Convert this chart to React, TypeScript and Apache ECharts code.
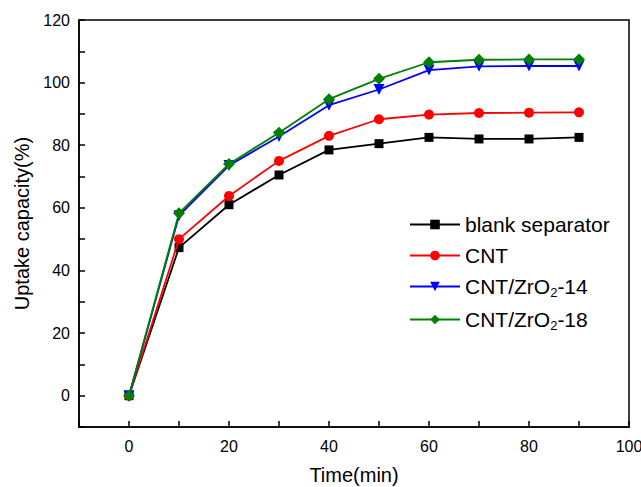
import React, { useEffect, useRef } from "react";
import * as echarts from "echarts";

const times = [0, 10, 20, 30, 40, 50, 60, 70, 80, 90];
const blankSeparator = [0, 47.3, 61, 70.5, 78.5, 80.5, 82.5, 82, 82, 82.5];
const cnt = [0, 50, 63.8, 75, 83, 88.3, 89.8, 90.3, 90.4, 90.5];
const cntZr14 = [0, 57.5, 73.5, 82.8, 92.8, 97.8, 104, 105.2, 105.3, 105.3];
const cntZr18 = [0, 58.3, 74, 84, 94.7, 101.2, 106.5, 107.3, 107.4, 107.4];

const seriesNames = ["blank separator", "CNT", "CNT/ZrO2-14", "CNT/ZrO2-18"];
const seriesColors = ["#000000", "#ff0000", "#0000ff", "#008000"];
const seriesSymbols = ["rect", "circle", "triangle", "diamond"];

export default function App() {
  const ref = useRef<HTMLDivElement>(null);
  useEffect(() => {
    if (!ref.current) return;
    const chart = echarts.init(ref.current, null, { renderer: "svg" });
    const datasets = [blankSeparator, cnt, cntZr14, cntZr18];
    const sizes = [9, 10, 11, 12];
    const font = "Liberation Sans, Arial, sans-serif";
    chart.setOption({
      animation: false,
      backgroundColor: "#ffffff",
      textStyle: { fontFamily: font },
      grid: {
        left: 79,
        top: 20,
        right: 12,
        bottom: 60,
        show: true,
        borderColor: "#000",
        borderWidth: 1.5,
        containLabel: false,
        outerBoundsMode: "none",
      },
      legend: {
        orient: "vertical",
        left: 404,
        top: 209,
        itemWidth: 50,
        itemHeight: 12,
        itemGap: 10,
        data: seriesNames,
        textStyle: {
          fontSize: 21,
          color: "#000",
          fontFamily: font,
          rich: {
            n: { fontSize: 21, color: "#000", fontFamily: font },
            sub: {
              fontSize: 13,
              color: "#000",
              fontFamily: font,
              verticalAlign: "bottom",
              padding: [12, 0, 0, 0],
            },
          },
        },
        formatter: (name: string) => {
          if (name.indexOf("ZrO2") >= 0) {
            const parts = name.split("ZrO2");
            return "{n|" + parts[0] + "ZrO}{sub|2}{n|" + parts[1] + "}";
          }
          return "{n|" + name + "}";
        },
      },
      xAxis: [
        {
          type: "value",
          min: -10,
          max: 100,
          interval: 10,
          name: "Time(min)",
          nameLocation: "middle",
          nameGap: 38,
          nameTextStyle: { fontSize: 20, color: "#000", fontFamily: font },
          axisLine: { onZero: false, lineStyle: { color: "#000", width: 1.5 } },
          axisTick: { inside: true, length: 6, lineStyle: { color: "#000", width: 1.5 } },
          axisLabel: {
            fontSize: 16,
            color: "#000",
            margin: 11,
            formatter: (v: number) => (v % 20 === 0 ? String(v) : ""),
          },
          splitLine: { show: false },
        },
      ],
      yAxis: [
        {
          type: "value",
          min: -10,
          max: 120,
          interval: 10,
          name: "Uptake capacity(%)",
          nameLocation: "middle",
          nameGap: 47,
          nameTextStyle: { fontSize: 20, color: "#000", fontFamily: font },
          axisLine: { onZero: false, lineStyle: { color: "#000", width: 1.5 } },
          axisTick: { inside: true, length: 6, lineStyle: { color: "#000", width: 1.5 } },
          axisLabel: {
            fontSize: 16,
            color: "#000",
            margin: 9,
            formatter: (v: number) => (v % 20 === 0 && v >= 0 ? String(v) : ""),
          },
          splitLine: { show: false },
        },
      ],
      series: datasets.map((d, i) => ({
        name: seriesNames[i],
        type: "line",
        data: times.map((t, j) => [t, d[j]]),
        symbol: seriesSymbols[i],
        symbolSize: sizes[i],
        symbolRotate: i === 2 ? 180 : 0,
        showAllSymbol: true,
        itemStyle: { color: seriesColors[i] },
        lineStyle: { color: seriesColors[i], width: 1.8 },
        z: 2 + i,
      })),
    });
    return () => chart.dispose();
  }, []);
  return (
    <div
      ref={ref}
      style={{ position: "fixed", left: 0, top: 0, width: 641, height: 487 }}
    />
  );
}
